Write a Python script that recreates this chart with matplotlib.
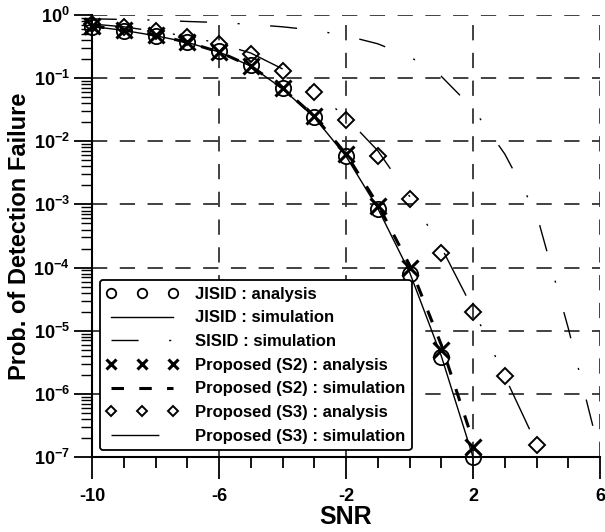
import numpy as np
import matplotlib
matplotlib.use('Agg')
import matplotlib.pyplot as plt
from matplotlib.lines import Line2D
from matplotlib.ticker import FixedLocator, LogLocator, NullFormatter

plt.rcParams['font.family'] = ['Liberation Sans', 'DejaVu Sans']
plt.rcParams['font.weight'] = 'bold'
plt.rcParams['mathtext.fontset'] = 'custom'
plt.rcParams['mathtext.rm'] = 'Liberation Sans:bold'
plt.rcParams['mathtext.bf'] = 'Liberation Sans:bold'
plt.rcParams['mathtext.default'] = 'bf'
plt.rcParams['axes.unicode_minus'] = False
plt.rcParams['lines.scale_dashes'] = False

# data
snr_a = [-10, -9, -8, -7, -6, -5, -4, -3, -2, -1, 0, 1, 2]
jisid_ana = [0.65, 0.56, 0.47, 0.37, 0.27, 0.16, 0.07, 0.024, 5.9e-3, 8.5e-4, 8e-5, 3.8e-6, 1e-7]
jisid_sim = [0.66, 0.57, 0.47, 0.37, 0.26, 0.155, 0.068, 0.024, 5.8e-3, 8.7e-4, 8.5e-5, 4e-6, 1e-7]
s2_ana = [0.66, 0.57, 0.48, 0.37, 0.26, 0.155, 0.07, 0.025, 6.2e-3, 9.5e-4, 1e-4, 5e-6, 1.45e-7]
s2_sim = [0.67, 0.58, 0.48, 0.37, 0.26, 0.155, 0.07, 0.025, 6.3e-3, 1e-3, 1.1e-4, 6e-6, 1.8e-7]

snr_s3 = [-10, -9, -8, -7, -6, -5, -4, -3, -2, -1, 0, 1, 2, 3, 4]
s3_ana = [0.72, 0.65, 0.55, 0.45, 0.35, 0.24, 0.13, 0.061, 0.022, 5.8e-3, 1.2e-3, 1.7e-4, 2e-5, 1.9e-6, 1.55e-7]
s3_sim = [0.72, 0.65, 0.55, 0.46, 0.355, 0.25, 0.14, 0.063, 0.024, 7.1e-3, 1.35e-3, 2.1e-4, 2.2e-5, 1.9e-6, 1.6e-7]

snr_sisid = [-10, -9, -8, -7, -6, -5, -4, -3, -2, -1, 0, 1, 2, 3, 4, 5, 6]
sisid_sim = [0.87, 0.85, 0.83, 0.79, 0.76, 0.71, 0.65, 0.575, 0.47, 0.35, 0.22, 0.107,
             0.033, 6.3e-3, 7.1e-4, 1.1e-5, 1.1e-7]

xticks = [-10, -6, -2, 2, 6]

sisid_dash = (19.5, 22, 1.5, 22)
s2_dash = (9, 11)
s3_dash = (34.5, 23, 1.5, 23, 1.5, 23)

fig = plt.figure(figsize=(6.05, 5.32), dpi=100)
ax = fig.add_axes([92 / 605, 75 / 532, 508 / 605, 442 / 532])
ax.set_yscale('log')
ax.set_xlim(-10, 6)
ax.set_ylim(1e-7, 1)


def dash_offset(xs, ys, x_start, seq):
    # shift the dash pattern so a dash begins near x_start, as in the reference
    pts = ax.transData.transform(np.column_stack([xs, ys]))
    seg = np.hypot(np.diff(pts[:, 0]), np.diff(pts[:, 1]))
    cum = np.concatenate([[0], np.cumsum(seg)])
    length = np.interp(x_start, xs, cum) * 72 / fig.dpi
    return (-length) % sum(seq)


ax.plot(snr_a, jisid_ana, ls='none', marker='o', ms=11, mfc='none', mec='black', mew=1.3,
        clip_on=False, zorder=3)
ax.plot(snr_a, jisid_sim, color='black', lw=1.0)
ax.plot(snr_sisid, sisid_sim, color='black', lw=1.0,
        ls=(dash_offset(snr_sisid, sisid_sim, -4.39, sisid_dash), sisid_dash))
ax.plot(snr_a, s2_ana, ls='none', marker='x', ms=11, mec='black', mew=2.2,
        clip_on=False, zorder=3)
ax.plot(snr_a, s2_sim, color='black', lw=2.2, ls=(0, s2_dash))
ax.plot(snr_s3, s3_ana, ls='none', marker='D', ms=8, mfc='none', mec='black', mew=1.4,
        clip_on=False, zorder=3)
ax.plot(snr_s3, s3_sim, color='black', lw=1.0,
        ls=(dash_offset(snr_s3, s3_sim, -1.56, s3_dash), s3_dash))

handles = [
    Line2D([], [], ls='none', marker='o', ms=11, mfc='none', mec='black', mew=1.3),
    Line2D([], [], color='black', lw=1.0),
    Line2D([], [], color='black', lw=1.0, ls=(0, sisid_dash)),
    Line2D([], [], ls='none', marker='x', ms=11, mec='black', mew=2.2),
    Line2D([], [], color='black', lw=2.2, ls=(0, s2_dash)),
    Line2D([], [], ls='none', marker='D', ms=8, mfc='none', mec='black', mew=1.4),
    Line2D([], [], color='black', lw=1.0, ls=(0, s3_dash)),
]
labels = ['JISID : analysis', 'JISID : simulation', 'SISID : simulation',
          'Proposed (S2) : analysis', 'Proposed (S2) : simulation',
          'Proposed (S3) : analysis', 'Proposed (S3) : simulation']

ax.xaxis.set_major_locator(FixedLocator(xticks))
ax.xaxis.set_minor_locator(FixedLocator(np.arange(-10, 7, 1)))
ax.set_xticklabels([str(t) for t in xticks])
ax.yaxis.set_minor_locator(LogLocator(base=10, subs=np.arange(2, 10), numticks=20))
ax.yaxis.set_minor_formatter(NullFormatter())
ax.set_yticks([10.0 ** k for k in range(-7, 1)])
ax.set_yticklabels([r'$10^{%d}$' % k for k in range(-7, 1)])

ax.tick_params(axis='x', which='major', direction='out', length=16, width=1.3,
               labelsize=13, pad=6)
ax.tick_params(axis='x', which='minor', direction='out', length=8, width=1.3)
ax.tick_params(axis='y', which='major', direction='out', length=13, width=1.3,
               labelsize=13, pad=3)
ax.tick_params(axis='y', which='minor', direction='out', length=8, width=1.0)

ax.spines['top'].set_visible(False)
ax.spines['right'].set_visible(False)
ax.spines['left'].set_linewidth(1.5)
ax.spines['bottom'].set_linewidth(1.5)

ax.grid(True, which='major', color='#333333', lw=1.3, dashes=(11, 9))

ax.set_xlabel('SNR', fontsize=18, fontweight='bold', labelpad=0)
ax.set_ylabel('Prob. of Detection Failure', fontsize=17, fontweight='bold')
ax.yaxis.set_label_coords(-0.12, 0.5)

leg = ax.legend(handles, labels, loc='lower left', bbox_to_anchor=(0.015, 0.015),
                borderaxespad=0, numpoints=3, markerscale=0.62, handlelength=4.3,
                handletextpad=1.0, labelspacing=0.52, borderpad=0.4, fancybox=True,
                framealpha=1, edgecolor='black', prop={'weight': 'bold', 'size': 12})
leg.get_frame().set_linewidth(1.3)
leg.set_zorder(5)

fig.savefig('out.png', dpi=100)
